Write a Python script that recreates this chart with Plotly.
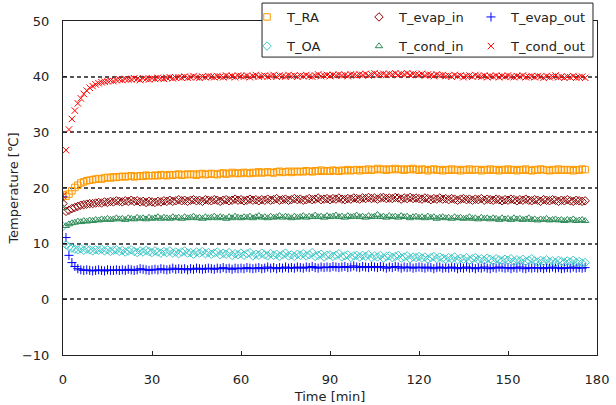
import plotly.graph_objects as go

# Sampling grid (minutes)
minutes = list(range(0, 177))

t_cond_out = [
    18.6, 26.8, 30.5, 32.4, 33.9, 35.2, 36.1, 36.9, 37.5, 38.0,
    38.3, 38.6, 38.8, 39.0, 39.1, 39.2, 39.3, 39.2, 39.4, 39.5,
    39.4, 39.6, 39.5, 39.5, 39.7, 39.6, 39.4, 39.7, 39.6, 39.5,
    39.7, 39.6, 39.8, 39.7, 39.6, 39.8, 39.9, 39.7, 39.8, 39.9,
    39.8, 40.0, 39.8, 39.9, 40.1, 39.9, 39.8, 40.0, 39.9, 40.1,
    40.0, 39.9, 40.1, 40.0, 39.9, 40.2, 40.0, 40.1, 39.9, 40.2,
    40.1, 40.0, 40.2, 39.9, 40.1, 40.3, 40.0, 40.1, 40.2, 40.0,
    40.1, 40.3, 40.0, 40.2, 40.1, 40.0, 40.3, 40.1, 40.2, 40.0,
    40.2, 40.1, 40.3, 40.1, 40.0, 40.2, 40.4, 40.1, 40.2, 40.3,
    40.1, 40.3, 40.2, 40.4, 40.2, 40.3, 40.1, 40.4, 40.3, 40.2,
    40.4, 40.3, 40.5, 40.2, 40.4, 40.6, 40.3, 40.4, 40.5, 40.3,
    40.5, 40.4, 40.6, 40.3, 40.5, 40.4, 40.6, 40.3, 40.5, 40.4,
    40.3, 40.5, 40.2, 40.4, 40.3, 40.1, 40.4, 40.2, 40.3, 40.1,
    40.2, 40.0, 40.3, 40.1, 40.2, 39.9, 40.1, 40.2, 40.0, 40.3,
    40.1, 40.0, 40.2, 39.9, 40.1, 40.0, 40.2, 39.9, 40.1, 40.0,
    40.2, 40.0, 39.9, 40.1, 40.0, 40.2, 39.9, 40.0, 40.1, 39.9,
    40.1, 40.0, 39.8, 40.1, 39.9, 40.0, 40.2, 39.9, 40.0, 39.8,
    40.0, 39.9, 40.1, 39.8, 39.9, 40.0, 39.8,
]

t_ra = [
    18.8, 18.5, 18.9, 19.5, 20.1, 20.5, 20.9, 21.1, 21.3, 21.4,
    21.5, 21.6, 21.7, 21.6, 21.8, 21.9, 21.8, 22.0, 21.9, 22.0,
    22.1, 22.0, 22.1, 22.2, 22.0, 22.1, 22.2, 22.1, 22.3, 22.2,
    22.2, 22.3, 22.2, 22.4, 22.3, 22.2, 22.4, 22.3, 22.4, 22.5,
    22.3, 22.4, 22.5, 22.4, 22.5, 22.3, 22.5, 22.6, 22.4, 22.5,
    22.6, 22.5, 22.4, 22.6, 22.7, 22.5, 22.6, 22.8, 22.6, 22.7,
    22.6, 22.8, 22.7, 22.6, 22.8, 22.7, 22.9, 22.7, 22.8, 22.9,
    22.8, 22.7, 22.9, 23.0, 22.8, 22.9, 23.0, 22.8, 23.0, 22.9,
    23.0, 22.9, 23.1, 23.0, 22.9, 23.1, 23.0, 23.2, 23.0, 23.1,
    23.0, 23.2, 23.1, 23.0, 23.2, 23.1, 23.3, 23.1, 23.2, 23.3,
    23.1, 23.3, 23.2, 23.4, 23.2, 23.3, 23.5, 23.3, 23.4, 23.2,
    23.4, 23.3, 23.5, 23.3, 23.4, 23.2, 23.4, 23.3, 23.5, 23.3,
    23.2, 23.4, 23.3, 23.1, 23.3, 23.4, 23.2, 23.3, 23.1, 23.3,
    23.2, 23.4, 23.2, 23.3, 23.1, 23.3, 23.2, 23.4, 23.2, 23.3,
    23.3, 23.1, 23.3, 23.2, 23.4, 23.2, 23.3, 23.1, 23.3, 23.2,
    23.4, 23.2, 23.3, 23.1, 23.3, 23.2, 23.4, 23.2, 23.1, 23.3,
    23.2, 23.4, 23.3, 23.2, 23.1, 23.3, 23.2, 23.4, 23.2, 23.3,
    23.2, 23.3, 23.1, 23.3, 23.2, 23.4, 23.3,
]

t_evap_in = [
    17.2, 15.8, 16.0, 16.3, 16.5, 16.7, 16.9, 17.0, 17.1, 17.2,
    17.2, 17.3, 17.4, 17.3, 17.5, 17.4, 17.6, 17.5, 17.7, 17.6,
    17.5, 17.7, 17.6, 17.8, 17.6, 17.7, 17.5, 17.6, 17.4, 17.6,
    17.5, 17.4, 17.6, 17.5, 17.7, 17.6, 17.8, 17.6, 17.7, 17.9,
    17.7, 17.8, 17.6, 17.8, 17.9, 17.7, 17.8, 17.6, 17.9, 17.8,
    17.7, 17.9, 17.8, 17.6, 17.8, 17.9, 17.7, 17.8, 18.0, 17.8,
    17.9, 17.7, 17.8, 18.0, 17.8, 17.9, 17.7, 17.9, 17.8, 18.0,
    17.8, 17.9, 18.1, 17.8, 17.9, 18.0, 17.8, 17.9, 18.1, 17.9,
    18.0, 17.8, 17.9, 18.1, 17.9, 18.0, 18.2, 17.9, 18.0, 18.1,
    17.9, 18.1, 18.0, 18.2, 18.0, 17.9, 18.1, 18.0, 18.2, 18.1,
    18.0, 18.2, 18.1, 18.3, 18.1, 18.2, 18.0, 18.2, 18.3, 18.1,
    18.2, 18.1, 18.3, 18.2, 18.0, 18.2, 18.1, 18.3, 18.1, 18.2,
    18.1, 18.0, 18.2, 18.1, 17.9, 18.1, 18.0, 18.2, 18.0, 18.1,
    17.9, 18.1, 18.0, 17.8, 18.0, 18.1, 17.9, 18.0, 17.8, 18.0,
    17.9, 18.1, 17.8, 18.0, 17.9, 17.8, 18.0, 17.9, 17.7, 17.9,
    17.8, 18.0, 17.9, 17.7, 17.9, 17.8, 18.0, 17.8, 17.7, 17.9,
    17.8, 17.6, 17.9, 17.8, 17.7, 17.9, 17.8, 17.6, 17.8, 17.7,
    17.9, 17.7, 17.6, 17.8, 17.7, 17.6, 17.7,
]

t_cond_in = [
    16.4, 13.2, 13.5, 13.7, 13.8, 14.0, 13.9, 14.1, 14.0, 14.2,
    14.1, 14.3, 14.2, 14.4, 14.3, 14.5, 14.3, 14.4, 14.6, 14.4,
    14.5, 14.3, 14.6, 14.5, 14.4, 14.7, 14.5, 14.6, 14.4, 14.7,
    14.5, 14.6, 14.8, 14.5, 14.7, 14.6, 14.5, 14.8, 14.6, 14.7,
    14.5, 14.8, 14.6, 14.7, 14.9, 14.6, 14.7, 14.5, 14.8, 14.6,
    14.7, 14.9, 14.6, 14.8, 14.7, 14.5, 14.8, 14.6, 14.9, 14.7,
    14.6, 14.8, 14.7, 14.9, 14.6, 14.8, 15.0, 14.7, 14.8, 14.6,
    14.9, 14.7, 14.8, 15.0, 14.7, 14.9, 14.8, 14.6, 14.9, 14.7,
    14.8, 15.0, 14.7, 14.9, 14.8, 15.1, 14.8, 14.9, 14.7, 15.0,
    14.8, 14.9, 15.1, 14.8, 14.9, 14.7, 15.0, 14.8, 14.9, 15.1,
    14.8, 14.9, 14.7, 15.0, 14.8, 14.9, 15.2, 14.8, 14.9, 14.7,
    15.0, 14.8, 14.9, 14.7, 15.0, 14.8, 14.9, 14.6, 14.8, 14.9,
    14.7, 14.8, 14.6, 14.9, 14.7, 14.8, 14.5, 14.7, 14.8, 14.6,
    14.7, 14.5, 14.8, 14.6, 14.7, 14.5, 14.6, 14.8, 14.5, 14.6,
    14.4, 14.7, 14.5, 14.6, 14.4, 14.6, 14.5, 14.3, 14.6, 14.4,
    14.5, 14.3, 14.6, 14.4, 14.5, 14.3, 14.4, 14.6, 14.3, 14.4,
    14.2, 14.4, 14.3, 14.5, 14.2, 14.3, 14.4, 14.2, 14.3, 14.1,
    14.3, 14.2, 14.4, 14.1, 14.2, 14.3, 14.1,
]

t_oa = [
    13.1, 9.8, 9.4, 9.2, 9.0, 8.9, 9.1, 8.8, 9.0, 8.9,
    8.7, 8.9, 8.8, 9.0, 8.7, 8.9, 8.6, 8.8, 8.9, 8.6,
    8.8, 8.5, 8.7, 8.9, 8.6, 8.4, 8.7, 8.5, 8.8, 8.6,
    8.4, 8.7, 8.5, 8.3, 8.6, 8.4, 8.7, 8.3, 8.5, 8.2,
    8.5, 8.7, 8.3, 8.4, 8.1, 8.5, 8.3, 8.6, 8.2, 8.4,
    8.1, 8.3, 8.5, 8.0, 8.3, 8.1, 8.4, 7.9, 8.2, 8.0,
    8.3, 7.9, 8.2, 8.4, 7.8, 8.1, 7.9, 8.3, 8.0, 7.8,
    8.2, 7.9, 8.1, 7.7, 8.0, 8.3, 7.8, 8.0, 7.7, 8.1,
    7.9, 8.2, 7.8, 8.0, 8.4, 7.7, 7.9, 8.1, 7.6, 7.9,
    8.0, 7.7, 7.9, 8.2, 7.6, 7.8, 8.0, 7.5, 7.8, 7.9,
    7.6, 7.9, 7.7, 8.0, 7.5, 7.8, 7.6, 7.9, 7.4, 7.7,
    7.8, 7.5, 7.7, 7.9, 7.4, 7.6, 7.8, 7.3, 7.6, 7.5,
    7.7, 7.4, 7.6, 7.2, 7.5, 7.7, 7.3, 7.6, 7.4, 7.2,
    7.5, 7.3, 7.6, 7.1, 7.4, 7.2, 7.5, 7.0, 7.3, 7.5,
    7.1, 7.3, 7.0, 7.4, 7.2, 6.9, 7.3, 7.1, 6.9, 7.2,
    7.0, 7.3, 6.8, 7.1, 6.9, 7.2, 6.8, 7.0, 7.3, 6.9,
    6.7, 7.0, 6.8, 7.1, 6.7, 6.9, 6.6, 7.0, 6.8, 6.6,
    6.9, 6.7, 7.0, 6.6, 6.8, 6.5, 6.6,
]

t_evap_out = [
    18.4, 11.1, 7.9, 6.6, 5.9, 5.5, 5.3, 5.2, 5.3, 5.2,
    5.1, 5.2, 5.3, 5.2, 5.1, 5.3, 5.2, 5.2, 5.3, 5.2,
    5.3, 5.2, 5.4, 5.3, 5.2, 5.3, 5.5, 5.4, 5.3, 5.2,
    5.3, 5.4, 5.3, 5.5, 5.4, 5.3, 5.4, 5.6, 5.4, 5.5,
    5.4, 5.5, 5.3, 5.5, 5.4, 5.6, 5.5, 5.4, 5.5, 5.6,
    5.5, 5.4, 5.6, 5.5, 5.7, 5.5, 5.6, 5.4, 5.6, 5.5,
    5.6, 5.5, 5.7, 5.6, 5.5, 5.6, 5.7, 5.5, 5.6, 5.8,
    5.6, 5.7, 5.5, 5.7, 5.6, 5.8, 5.6, 5.7, 5.6, 5.8,
    5.7, 5.6, 5.8, 5.7, 5.9, 5.7, 5.6, 5.8, 5.7, 5.8,
    5.7, 5.9, 5.8, 5.7, 5.8, 5.9, 5.7, 5.8, 6.0, 5.8,
    5.7, 5.9, 5.8, 5.7, 5.9, 5.8, 5.7, 5.9, 5.8, 5.6,
    5.8, 5.7, 5.9, 5.8, 5.6, 5.8, 5.7, 5.8, 5.6, 5.7,
    5.8, 5.7, 5.6, 5.8, 5.7, 5.5, 5.7, 5.8, 5.6, 5.7,
    5.6, 5.8, 5.7, 5.5, 5.7, 5.6, 5.8, 5.6, 5.7, 5.5,
    5.7, 5.6, 5.8, 5.6, 5.5, 5.7, 5.6, 5.8, 5.7, 5.6,
    5.7, 5.5, 5.7, 5.6, 5.8, 5.6, 5.5, 5.7, 5.6, 5.7,
    5.6, 5.7, 5.5, 5.7, 5.6, 5.8, 5.6, 5.7, 5.5, 5.6,
    5.7, 5.6, 5.8, 5.6, 5.7, 5.6, 5.7,
]

x_ticks = [0, 30, 60, 90, 120, 150, 180]
y_ticks = [-10, 0, 10, 20, 30, 40, 50]

FONT = "DejaVu Sans"
TXT = "#222"

# name, values, marker symbol, colour, legend grid cell (column, row)
series = [
    ("T_RA", t_ra, "square-open", "#FF9900", (0, 0)),
    ("T_evap_in", t_evap_in, "diamond-open", "#8B0000", (1, 0)),
    ("T_evap_out", t_evap_out, "cross-thin", "#0000FF", (2, 0)),
    ("T_OA", t_oa, "diamond-open", "#40C8C8", (0, 1)),
    ("T_cond_in", t_cond_in, "triangle-up-open", "#2E8B57", (1, 1)),
    ("T_cond_out", t_cond_out, "x-thin", "#FF0000", (2, 1)),
]

# legend grid inside the boxed key (paper coordinates)
legend_cols = [0.3446, 0.5543, 0.7640]
legend_rows = [0.9575, 0.875]

fig = go.Figure()
legend_layout = {}
for i, (name, vals, sym, col, (c, r)) in enumerate(series):
    key = "legend" if i == 0 else f"legend{i + 1}"
    fig.add_trace(go.Scatter(
        x=minutes, y=vals, mode="markers", name=name, legend=key,
        marker=dict(symbol=sym, size=6.5, color=col, line=dict(color=col, width=1)),
    ))
    legend_layout[key] = dict(
        x=legend_cols[c], y=legend_rows[r], xanchor="left", yanchor="middle",
        bgcolor="rgba(0,0,0,0)", borderwidth=0, itemwidth=30,
        font=dict(family=FONT, size=13, color=TXT),
    )

axis_font = dict(family=FONT, size=13, color=TXT)

# The top margin is kept tiny and the plot domain trimmed instead, so the
# legend block above the axes stays inside the paper area.
fig.update_layout(
    width=616, height=405,
    margin=dict(l=63, r=19, t=2, b=50),
    paper_bgcolor="white", plot_bgcolor="white",
    font=dict(family=FONT, size=13, color=TXT),
    showlegend=True,
    shapes=[dict(
        type="rect", xref="paper", yref="paper",
        x0=0.3727, x1=0.9925, y0=0.844, y1=0.997,
        line=dict(color=TXT, width=1), fillcolor="white", layer="above",
    )],
    xaxis=dict(
        range=[0, 180], tickvals=x_ticks, ticks="inside", ticklen=4,
        tickcolor=TXT, showgrid=False, zeroline=False, automargin=False,
        showline=True, linecolor=TXT, linewidth=1, mirror=True,
        tickfont=axis_font, ticklabelstandoff=12,
        title=dict(text="Time [min]", font=axis_font, standoff=6),
    ),
    yaxis=dict(
        range=[-10, 50], tickvals=y_ticks, ticks="inside", ticklen=4,
        domain=[0, 0.9462], automargin=False,
        tickcolor=TXT, showgrid=True, gridcolor="#555", gridwidth=1.5,
        griddash="4px,3px", zeroline=False,
        showline=True, linecolor=TXT, linewidth=1, mirror=True,
        tickfont=axis_font, ticklabelstandoff=10,
        title=dict(text="Temperature [℃]", font=axis_font, standoff=0),
    ),
    **legend_layout,
)

fig.write_html("out.html")
